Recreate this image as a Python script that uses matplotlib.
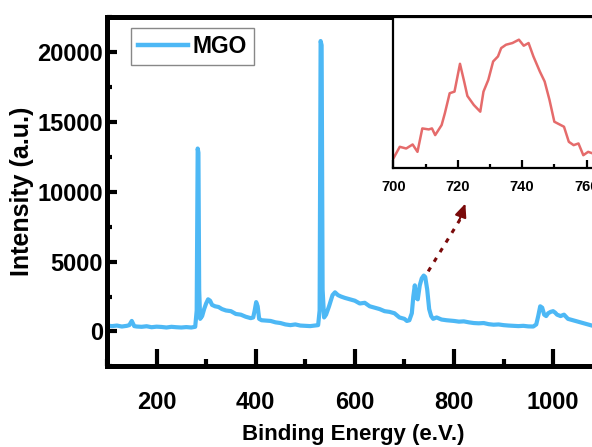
import numpy as np
import matplotlib.pyplot as plt
from matplotlib.ticker import MultipleLocator

plt.rcParams['font.family'] = ['Liberation Sans', 'DejaVu Sans']
plt.rcParams['font.weight'] = 'bold'

# XPS survey spectrum (binding energy in eV, intensity in counts)
energy = [100, 110, 120, 130, 140, 145, 150, 155, 160, 170, 180, 190, 200,
          210, 220, 230, 240, 250, 260, 270, 278, 281, 283, 284.5, 286, 288,
          292, 296, 300, 304, 308, 312, 318, 325, 332, 340, 350, 360, 370,
          380, 390, 395, 398, 401, 404, 407, 412, 420, 430, 440, 450, 460,
          470, 480, 490, 500, 510, 520, 526, 529, 531, 533, 535, 538, 542,
          548, 555, 560, 566, 572, 580, 590, 600, 610, 620, 630, 640, 650,
          660, 670, 680, 690, 700, 705, 710, 715, 718, 721, 724, 727, 731,
          735, 739, 742, 746, 750, 754, 758, 765, 775, 785, 800, 810, 820,
          830, 840, 850, 860, 870, 880, 890, 900, 910, 920, 930, 940, 950,
          960, 966, 970, 974, 978, 982, 986, 990, 995, 1000, 1004, 1008, 1015,
          1022, 1030, 1040, 1050, 1060, 1070, 1080, 1090, 1100]
intensity = [420, 380, 420, 350, 400, 450, 750, 380, 350, 330, 370, 300, 340,
             320, 280, 330, 300, 280, 310, 280, 330, 1500, 13100, 12800, 3000, 900,
             1100, 1600, 2000, 2300, 2200, 1900, 1800, 1750, 1600, 1500, 1450, 1250, 1200,
             1050, 950, 1000, 1500, 2100, 1800, 900, 800, 780, 750, 650, 600, 500,
             450, 500, 420, 400, 380, 420, 450, 1500, 20800, 20500, 3000, 1000, 1200,
             1800, 2600, 2800, 2600, 2500, 2400, 2300, 2200, 2000, 2050, 1800, 1700, 1600,
             1450, 1400, 1300, 1000, 900, 750, 800, 1300, 2500, 3300, 2400, 2300, 3300,
             3800, 4000, 3900, 3000, 1600, 1100, 900, 1000, 850, 800, 750, 700, 720,
             650, 600, 580, 600, 520, 480, 500, 450, 420, 400, 380, 400, 360,
             350, 500, 1100, 1800, 1700, 1200, 1100, 1300, 1400, 1450, 1350, 1200, 1100,
             1200, 900, 800, 700, 600, 500, 400, 350, 300]

# zoomed region around 700-760 eV
inset_energy = [700, 702, 704, 706, 707.5, 709, 711, 712, 713, 715, 716, 717.5,
                719, 720.7, 722, 723, 725, 727, 728, 729.5, 731, 732.5, 733.5,
                735, 737, 739, 740.5, 742, 743.5, 745.5, 747, 748.5, 750, 752,
                753, 754.5, 756, 757.5, 759, 760.5, 762]
inset_intensity = [1500, 1756, 1719, 1807, 1646, 2157, 2135, 2157, 2011, 2230,
                   2486, 2924, 2960, 3566, 3179, 2865, 2668, 2522, 2960, 3216,
                   3617, 3727, 3909, 3982, 4019, 4092, 3960, 4019, 3727, 3398,
                   3179, 2778, 2303, 2230, 2194, 1865, 1792, 1829, 1573, 1646, 1610]

blue = '#4db8f5'
red = '#e56b6b'

fig = plt.figure(figsize=(5.92, 4.47), dpi=100)
ax = fig.add_axes([0.1807, 0.1805, 0.8328, 0.7808])
ax.plot(energy, intensity, color=blue, lw=3, label='MGO')
ax.set_xlim(100, 1094.6)
ax.set_ylim(-2500, 22500)
ax.xaxis.set_major_locator(MultipleLocator(200))
ax.xaxis.set_minor_locator(MultipleLocator(100))
ax.yaxis.set_major_locator(MultipleLocator(5000))
ax.yaxis.set_minor_locator(MultipleLocator(2500))
for s in ax.spines.values():
    s.set_linewidth(3.6)
ax.tick_params(axis='x', which='major', direction='in', length=12, width=3,
               labelsize=17, pad=18)
ax.tick_params(axis='x', which='minor', direction='in', length=5, width=3)
ax.tick_params(axis='y', which='major', direction='in', length=7, width=3,
               labelsize=17, pad=3)
ax.tick_params(axis='y', which='minor', direction='in', length=3.5, width=3)
ax.set_xlabel('Binding Energy (e.V.)', fontsize=16, fontweight='bold', labelpad=7)
ax.set_ylabel('Intensity (a.u.)', fontsize=18, fontweight='bold', labelpad=2)

leg = ax.legend(loc='upper left', bbox_to_anchor=(0.048, 0.969), borderaxespad=0,
                fancybox=False, edgecolor='#888888', fontsize=16.5, handlelength=2.2,
                borderpad=0.3, handletextpad=0.2, framealpha=1)
leg.get_frame().set_linewidth(1)
for line in leg.get_lines():
    line.set_linewidth(3.2)

# dashed arrow pointing from the 740 eV peak to the inset
ax.plot([748, 812], [4300, 8000], color='#7a0a0a', lw=2.2, ls=(0, (1.5, 2.2)))
ax.annotate('', xy=(825, 9350), xytext=(808, 7700),
            arrowprops=dict(arrowstyle='-|>,head_length=0.8,head_width=0.35',
                            color='#7a0a0a', lw=1.5))

ins = fig.add_axes([0.6644, 0.6248, 0.3492, 0.3365])
ins.plot(inset_energy, inset_intensity, color=red, lw=1.8)
ins.set_xlim(700, 764.2)
ins.set_ylim(1300, 4580)
ins.set_yticks([])
ins.xaxis.set_major_locator(MultipleLocator(20))
ins.xaxis.set_minor_locator(MultipleLocator(10))
for s in ins.spines.values():
    s.set_linewidth(1.6)
ins.tick_params(axis='x', which='major', direction='in', length=6, width=1.6,
                labelsize=10.5, pad=9)
ins.tick_params(axis='x', which='minor', direction='in', length=3, width=1.6)

fig.savefig('out.png', dpi=100)
